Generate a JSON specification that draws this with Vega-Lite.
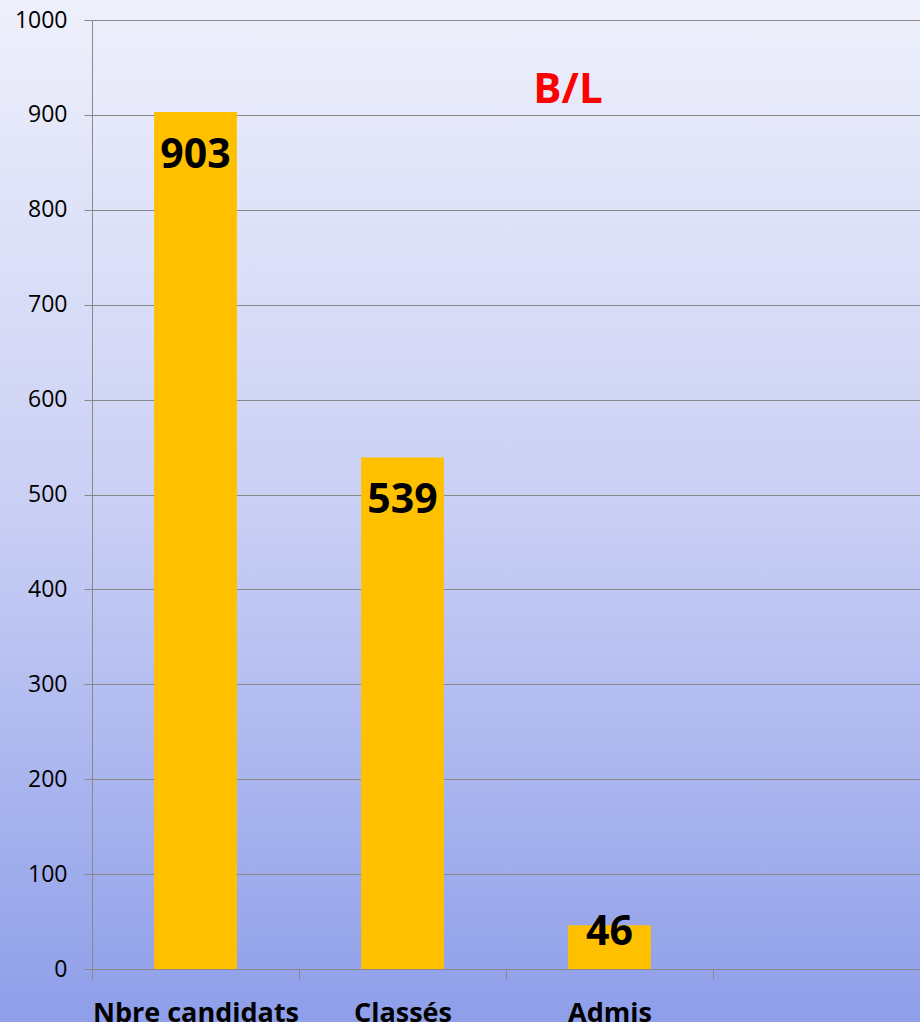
{
  "$schema": "https://vega.github.io/schema/vega-lite/v6.json",
  "width": 920,
  "height": 1022,
  "autosize": {"type": "none"},
  "padding": 0,
  "background": "#8e9ee9",
  "config": {
    "view": {
      "stroke": null,
      "fill": {"gradient": "linear", "x1": 0, "y1": 0, "x2": 0, "y2": 1, "stops": [{"offset": 0, "color": "#eef0fb"}, {"offset": 0.5, "color": "#c9cff4"}, {"offset": 1, "color": "#8e9ee9"}]}
    },
    "font": "Open Sans"
  },
  "title": {
    "text": "B/L",
    "color": "#ff0000",
    "font": "Open Sans",
    "fontWeight": "bold",
    "fontSize": 42,
    "anchor": "middle",
    "baseline": "alphabetic",
    "offset": 0,
    "dx": 108,
    "dy": 145
  },
  "data": {
    "values": [
      {"cat": "Nbre candidats", "value": 903},
      {"cat": "Classés", "value": 539},
      {"cat": "Admis", "value": 46}
    ]
  },
  "encoding": {
    "x": {
      "field": "cat",
      "type": "nominal",
      "sort": null,
      "scale": {"domain": ["Nbre candidats", "Classés", "Admis", " "], "range": [92, 920], "paddingInner": 0, "paddingOuter": 0},
      "axis": {
        "title": null,
        "offset": -53,
        "labelAngle": 0,
        "labelLimit": 0,
        "labelFont": "Open Sans",
        "labelFontWeight": "bold",
        "labelFontSize": 27,
        "labelColor": "#000000",
        "labelBaseline": "alphabetic",
        "labelPadding": 42,
        "tickSize": 10,
        "tickColor": "#888888",
        "domainColor": "#888888",
        "tickBand": "extent",
        "grid": false
      }
    },
    "y": {
      "field": "value",
      "type": "quantitative",
      "scale": {"domain": [0, 1000], "nice": false, "range": [969, 20]},
      "axis": {
        "title": null,
        "offset": -92,
        "format": "d",
        "values": [0, 100, 200, 300, 400, 500, 600, 700, 800, 900, 1000],
        "labelFont": "Open Sans",
        "labelFontSize": 23,
        "labelColor": "#000000",
        "labelPadding": 17,
        "tickSize": 8,
        "tickColor": "#888888",
        "domainColor": "#888888",
        "grid": true,
        "gridColor": "#888888",
        "gridOpacity": 1
      }
    }
  },
  "layer": [
    {"mark": {"type": "bar", "color": "#ffc000", "width": {"band": 0.4}}},
    {
      "mark": {
        "type": "text",
        "font": "Open Sans",
        "fontWeight": "bold",
        "fontSize": 41,
        "color": "#000000",
        "baseline": "alphabetic",
        "align": "center",
        "dy": {"expr": "datum.value < 100 ? 20 : 56"}
      },
      "encoding": {"text": {"field": "value", "type": "quantitative"}}
    }
  ]
}
